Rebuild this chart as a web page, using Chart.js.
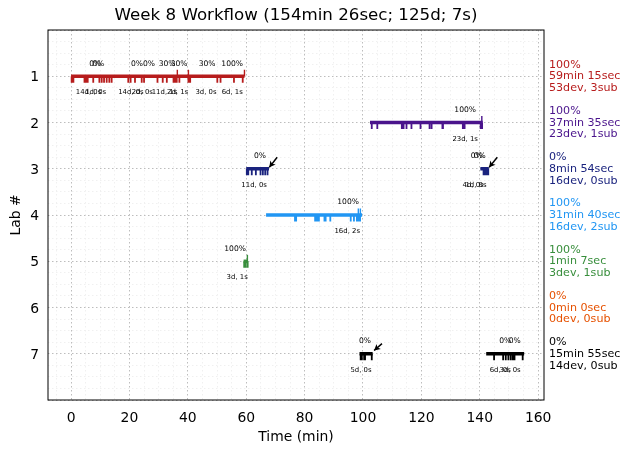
<!DOCTYPE html>
<html><head><meta charset="utf-8">
<style>html,body{margin:0;padding:0;background:#fff}#w{width:630px;height:453px}</style>
<script src="https://cdn.jsdelivr.net/npm/chart.js@4"></script></head>
<body><div id="w"><canvas id="c" width="630" height="453"></canvas></div>
<script>
const labs=[1,2,3,4,5,6,7];
const labColors=['#b71c1c','#4a148c','#1a237e','#2196f3','#388e3c','#e65100','#000000'];
const titleText='Week 8 Workflow (154min 26sec; 125d; 7s)';
const sideText=[
['100%','59min 15sec','53dev, 3sub'],
['100%','37min 35sec','23dev, 1sub'],
['0%','8min 54sec','16dev, 0sub'],
['100%','31min 40sec','16dev, 2sub'],
['100%','1min 7sec','3dev, 1sub'],
['0%','0min 0sec','0dev, 0sub'],
['0%','15min 55sec','14dev, 0sub']];
// [start,end] of each work session
const sessions=[
[[0,59.4]],
[[102.4,141]],
[[60,67.8],[140.2,143.1]],
[[66.8,99.7]],
[[59.1,60.6]],
[],
[[98.8,103.3],[142.2,155.2]]];
const devTimes=[
[0.2,0.8,4.6,5.1,5.7,7.6,9.7,10.5,11.3,12.2,13.1,13.9,19.6,20.4,21.9,24.2,25,29.6,31.4,32.8,35.1,35.6,36.2,37.1,40.2,40.8,50.1,51.2,55.8,58.8],
[103,104.9,113.3,113.9,114.9,116.6,119.7,122.8,123.5,127.2,127.4,134.2,134.8,140.3,140.8],
[60.2,60.7,61.9,63.3,64.9,65.7,66.5,67.3,141.3,141.8,142.4,142.9],
[76.7,77.1,83.6,84,84.4,84.9,86.8,87.2,88.8,95.8,96.9,97.9,98.4,99],
[59.3,59.8,60.5],
[],
[99.2,99.6,100.4,100.7,103,144.9,148,148.9,149.8,150.6,151.3,151.9,154.7]];
const subTimes=[[36.4,40.2,59.4],[140.7],[],[98.4,99.1],[60.4],[],[]];
// label x in minutes, lab, text
const topLabels=[
[8.3,1,'0%'],[9.3,1,'0%'],[22.6,1,'0%'],[26.7,1,'0%'],[32.9,1,'30%'],[37,1,'30%'],[46.6,1,'30%'],[55.2,1,'100%'],
[135,2,'100%'],[64.7,3,'0%'],[139,3,'0%'],[140,3,'0%'],[94.9,4,'100%'],[56.2,5,'100%'],[100.7,7,'0%'],[148.7,7,'0%'],[152,7,'0%']];
const bottomLabels=[
[6,1,'14d, 0s'],[8.4,1,'1d, 0s'],[20.5,1,'14d, 0s'],[24.4,1,'2d, 0s'],[32,1,'11d, 1s'],[36.5,1,'2d, 1s'],[46.2,1,'3d, 0s'],[55.2,1,'6d, 1s'],
[135,2,'23d, 1s'],[62.7,3,'11d, 0s'],[137.7,3,'4d, 0s'],[138.7,3,'1d, 0s'],[94.6,4,'16d, 2s'],[56.9,5,'3d, 1s'],[99.3,7,'5d, 0s'],[147,7,'6d, 0s'],[150.4,7,'3d, 0s']];
// arrows: tail minute, tail lab, tip minute, tip lab
const arrows=[[70.6,2.75,67.9,2.97],[146,2.75,143.2,2.97],[106.5,6.78,103.8,6.93]];

const datasets=[];
labs.forEach((lab,i)=>{
  const c=labColors[i];
  const bar=[];sessions[i].forEach(s=>{bar.push({x:s[0],y:lab},{x:s[1],y:lab},{x:s[1],y:null});});
  const dev=[];devTimes[i].forEach(t=>{dev.push({x:t,y:lab},{x:t,y:lab+0.14},{x:t,y:null});});
  const sub=[];subTimes[i].forEach(t=>{sub.push({x:t,y:lab},{x:t,y:lab-0.14},{x:t,y:null});});
  datasets.push({data:bar,borderColor:c,borderWidth:3.4,borderCapStyle:'butt'});
  datasets.push({data:dev,borderColor:c,borderWidth:1.8,borderCapStyle:'butt'});
  datasets.push({data:sub,borderColor:c,borderWidth:1.4,borderCapStyle:'butt'});
});
const font="'DejaVu Sans'";
const overlay={id:'overlay',afterDatasetsDraw(ch){
  const g=ch.ctx,x=ch.scales.x,y=ch.scales.y,a=ch.chartArea;
  g.save();
  g.textAlign='center';g.textBaseline='middle';g.fillStyle='#000';
  g.font='7.6px '+font;
  topLabels.forEach(l=>g.fillText(l[2],x.getPixelForValue(l[0]),y.getPixelForValue(l[1])-12.5));
  g.font='6.9px '+font;
  bottomLabels.forEach(l=>g.fillText(l[2],x.getPixelForValue(l[0]),y.getPixelForValue(l[1])+16.3));
  arrows.forEach(r=>{
    const x0=x.getPixelForValue(r[0]),y0=y.getPixelForValue(r[1]),x1=x.getPixelForValue(r[2]),y1=y.getPixelForValue(r[3]);
    const ang=Math.atan2(y1-y0,x1-x0);
    g.strokeStyle='#000';g.lineWidth=1.5;g.beginPath();g.moveTo(x0,y0);g.lineTo(x1-ang*0,y1);g.stroke();
    g.beginPath();g.moveTo(x1,y1);
    g.lineTo(x1-7*Math.cos(ang-0.5),y1-7*Math.sin(ang-0.5));
    g.lineTo(x1-4.5*Math.cos(ang),y1-4.5*Math.sin(ang));
    g.lineTo(x1-7*Math.cos(ang+0.5),y1-7*Math.sin(ang+0.5));
    g.closePath();g.fill();
  });
  g.textAlign='left';g.font='11.1px '+font;
  labs.forEach((lab,i)=>{
    const cy=y.getPixelForValue(lab);
    g.fillStyle=labColors[i];
    sideText[i].forEach((t,j)=>g.fillText(t,549,cy+0.3+(j-1)*11.7));
  });
  g.strokeStyle='#000';g.lineWidth=1;g.strokeRect(a.left,a.top,a.right-a.left,a.bottom-a.top);
  g.restore();
}};
new Chart(document.getElementById('c'),{type:'line',data:{datasets},plugins:[overlay],options:{
  responsive:false,animation:false,spanGaps:false,
  layout:{padding:{left:0,right:86,top:6,bottom:0}},
  elements:{point:{radius:0},line:{tension:0}},
  plugins:{legend:{display:false},tooltip:{enabled:false},
    title:{display:true,text:titleText,fullSize:false,color:'#000',font:{family:font,size:16.67,weight:'normal'},padding:{top:0,bottom:4}}},
  scales:{
    x:{type:'linear',min:-7.9,max:162,afterFit(s){s.height=53;},
      afterBuildTicks(s){const t=[];for(let v=-5;v<=160;v+=5)t.push({value:v});s.ticks=t;},
      title:{display:true,text:'Time (min)',color:'#000',font:{family:font,size:13.9},padding:{top:2,bottom:7}},
      ticks:{autoSkip:false,maxRotation:0,color:'#000',font:{family:font,size:13.9},padding:10,callback:v=>v%20===0?String(v):''},
      grid:{drawTicks:false,color:c=>c.tick.value%20===0?'#bdbdbd':'#f0f0f0',lineWidth:1},border:{display:false,dash:[1.5,2.5]}},
    y:{type:'linear',reverse:true,min:0,max:8,afterFit(s){s.width=48;},
      afterBuildTicks(s){const t=[];for(let v=0;v<=8;v+=0.25)t.push({value:v});s.ticks=t;},
      title:{display:true,text:'Lab #',color:'#000',font:{family:font,size:13.9},padding:{top:8,bottom:0}},
      ticks:{autoSkip:false,color:'#000',font:{family:font,size:13.9,lineHeight:0.2},padding:9,callback:v=>(Number.isInteger(v)&&v>0&&v<8)?['',String(v)]:''},
      grid:{drawTicks:false,color:c=>Number.isInteger(c.tick.value)?'#bdbdbd':'#f0f0f0',lineWidth:1},border:{display:false,dash:[1.5,2.5]}}
  }}});
</script></body></html>
